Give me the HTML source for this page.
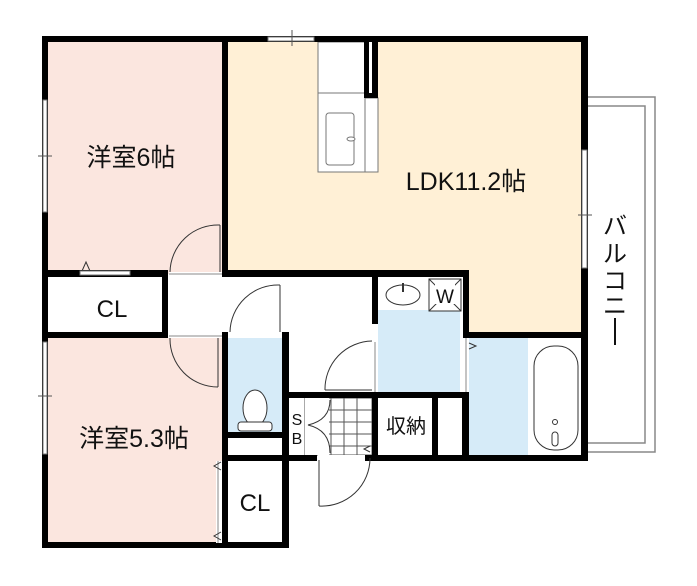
<!DOCTYPE html>
<html><head><meta charset="utf-8"><style>
html,body{margin:0;padding:0;background:#fff}
svg{display:block}
text{font-family:"Liberation Sans","Noto Sans CJK JP",sans-serif;fill:#111}
</style></head><body>
<svg width="697" height="586" viewBox="0 0 697 586" xmlns="http://www.w3.org/2000/svg">
<rect x="48" y="42" width="175" height="232" fill="#fbe6df"/>
<rect x="228" y="42" width="353" height="232" fill="#fff0d6"/>
<rect x="466" y="270" width="115" height="65" fill="#fff0d6"/>
<rect x="48" y="338" width="175" height="206" fill="#fbe6df"/>
<rect x="228" y="338" width="55" height="94" fill="#d6ebf8"/>
<rect x="378" y="310" width="82" height="83" fill="#d6ebf8"/>
<rect x="468" y="338" width="60" height="118" fill="#d6ebf8"/>
<path d="M588 97 H655 V452 H588" fill="none" stroke="#888" stroke-width="1.5"/>
<path d="M588 106 H645 V443 H588" fill="none" stroke="#888" stroke-width="1.5"/>
<rect x="318" y="42" width="47" height="130" fill="#fff" stroke="#777" stroke-width="1"/>
<line x1="318" y1="93" x2="365" y2="93" stroke="#777"/>
<rect x="326" y="113" width="28" height="52" rx="3" fill="#fff" stroke="#777"/>
<ellipse cx="351" cy="139" rx="4" ry="2" fill="#fff" stroke="#777"/>
<rect x="365" y="98" width="13" height="74" fill="#fff" stroke="#777"/>
<rect x="364" y="36" width="14" height="62" fill="#000"/>
<rect x="369" y="40" width="3" height="53" fill="#fff"/>
<g stroke="#555" stroke-width="1">
<rect x="305" y="398" width="67" height="57" fill="#fff"/>
<line x1="318" y1="398" x2="318" y2="455"/><line x1="331" y1="398" x2="331" y2="455"/><line x1="344" y1="398" x2="344" y2="455"/><line x1="357" y1="398" x2="357" y2="455"/>
<line x1="305" y1="410" x2="372" y2="410"/><line x1="305" y1="422" x2="372" y2="422"/><line x1="305" y1="434" x2="372" y2="434"/><line x1="305" y1="446" x2="372" y2="446"/>
</g>
<rect x="305" y="398" width="24" height="57" fill="#fff"/>
<path d="M330 400 Q 330 420 308 425 Q 330 430 330 453" fill="none" stroke="#333"/>
<g fill="#000">
<rect x="42" y="36" width="546" height="6"/>
<rect x="42" y="36" width="6" height="512"/>
<rect x="581" y="36" width="7" height="424"/>
<rect x="222" y="36" width="6" height="240"/>
<rect x="42" y="270" width="126" height="7"/>
<rect x="222" y="270" width="247" height="7"/>
<rect x="162" y="270" width="6" height="68"/>
<rect x="42" y="332" width="126" height="6"/>
<rect x="463" y="270" width="6" height="68"/>
<rect x="463" y="332" width="125" height="6"/>
<rect x="372" y="270" width="6" height="54"/>
<rect x="372" y="392" width="6" height="68"/>
<rect x="222" y="332" width="6" height="216"/>
<rect x="282" y="332" width="7" height="216"/>
<rect x="222" y="432" width="66" height="6"/>
<rect x="222" y="455" width="95" height="6"/>
<rect x="365" y="455" width="223" height="6"/>
<rect x="42" y="542" width="247" height="6"/>
<rect x="288" y="392" width="178" height="6"/>
<rect x="432" y="392" width="6" height="68"/>
<rect x="462" y="392" width="6" height="68"/>
<rect x="463" y="332" width="6" height="128"/>
</g>
<g fill="#fff" stroke="#777" stroke-width="1">
<rect x="268" y="37" width="46" height="4"/>
<rect x="43" y="100" width="4" height="112"/>
<rect x="43" y="342" width="4" height="112"/>
<rect x="582" y="150" width="5" height="118"/>
<rect x="80" y="271" width="50" height="4"/>
</g>
<g stroke="#555" stroke-width="1">
<line x1="292" y1="30" x2="292" y2="46"/>
<line x1="38" y1="156" x2="52" y2="156"/>
<line x1="38" y1="396" x2="52" y2="396"/>
<line x1="578" y1="215" x2="592" y2="215"/>
</g>
<g fill="#fff">
<rect x="169" y="272" width="53" height="5"/>
<rect x="169" y="332" width="53" height="6"/>
<rect x="229" y="332" width="53" height="6"/>
<rect x="372" y="342" width="6" height="50"/>
<rect x="318" y="455" width="47" height="6"/>
<rect x="216" y="461" width="6" height="82"/>
<rect x="463" y="338" width="6" height="54"/>
</g>
<g fill="none" stroke="#333" stroke-width="1">
<path d="M220 225 A48 48 0 0 0 170 272"/><line x1="220" y1="225" x2="220" y2="272"/>
<path d="M170 338 A48 48 0 0 0 218 387"/><line x1="218" y1="338" x2="218" y2="387"/>
<path d="M280 285 A48 48 0 0 0 230 332"/><line x1="280" y1="285" x2="280" y2="332"/>
<path d="M372 341 A48 48 0 0 0 325 390"/><line x1="325" y1="390" x2="372" y2="390"/>
<path d="M319 506 A48 48 0 0 0 370 458"/><line x1="319" y1="460" x2="319" y2="506"/>
<line x1="169" y1="274" x2="222" y2="274" stroke="#888"/>
<line x1="169" y1="336" x2="222" y2="336" stroke="#888"/>
<line x1="218" y1="461" x2="218" y2="543" stroke="#888"/>
<line x1="375" y1="342" x2="375" y2="392" stroke="#888"/>
<line x1="466" y1="338" x2="466" y2="392" stroke="#888"/>
<path d="M82 271 L86 262 L90 271"/>
<path d="M221 462 L214 466 L221 470"/><path d="M221 532 L214 536 L221 540"/>
<path d="M469 343 L476 346 L469 349"/>
<path d="M370 446 L364 449 L370 452"/>
</g>
<rect x="378" y="277" width="84" height="33" fill="#fff"/>
<ellipse cx="403" cy="295" rx="17" ry="10" fill="#fff" stroke="#333"/>
<line x1="403" y1="283" x2="403" y2="292" stroke="#333" stroke-width="2"/>
<rect x="429" y="279" width="32" height="32" fill="#fff" stroke="#333"/>
<line x1="429" y1="279" x2="461" y2="311" stroke="#333"/><line x1="461" y1="279" x2="429" y2="311" stroke="#333"/>
<rect x="435" y="284" width="20" height="20" fill="#fff"/>
<text x="445" y="303" font-size="19" text-anchor="middle">W</text>
<ellipse cx="255" cy="408" rx="12" ry="18" fill="#fff" stroke="#333"/>
<rect x="238" y="422" width="34" height="9" rx="3" fill="#fff" stroke="#333"/>
<rect x="534" y="346" width="44" height="104" rx="20" fill="#fff" stroke="#333"/>
<circle cx="555" cy="422" r="2.5" fill="none" stroke="#333"/>
<rect x="552" y="432" width="6" height="14" rx="3" fill="#fff" stroke="#333"/>
<text x="131" y="166" font-size="25" text-anchor="middle">洋室6帖</text>
<text x="466" y="190" font-size="25" text-anchor="middle">LDK11.2帖</text>
<text x="112" y="317" font-size="24" text-anchor="middle">CL</text>
<text x="134" y="447" font-size="25" text-anchor="middle">洋室5.3帖</text>
<text x="255" y="511" font-size="24" text-anchor="middle">CL</text>
<text x="406" y="433" font-size="20" text-anchor="middle">収納</text>
<text x="297" y="425" font-size="16" text-anchor="middle">S</text>
<text x="297" y="444" font-size="16" text-anchor="middle">B</text>
<text x="615" y="234" font-size="24" text-anchor="middle">バ</text>
<text x="615" y="262" font-size="24" text-anchor="middle">ル</text>
<text x="615" y="289" font-size="24" text-anchor="middle">コ</text>
<text x="615" y="314" font-size="24" text-anchor="middle">ニ</text>
<line x1="615" y1="318" x2="615" y2="345" stroke="#111" stroke-width="2"/>
</svg>
</body></html>
